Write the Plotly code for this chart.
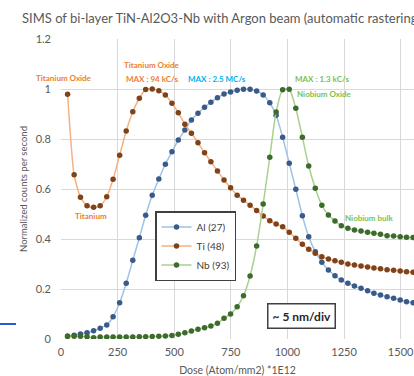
import plotly.graph_objects as go

# Dose (Atom/mm2) *1E12
dose = [29, 58, 86, 115, 144, 173, 202, 230, 259, 288, 317, 346, 374, 403, 432,
        461, 490, 518, 547, 576, 605, 634, 662, 691, 720, 749, 778, 806, 835, 864,
        893, 922, 950, 979, 1008, 1037, 1066, 1094, 1123, 1152, 1181, 1210, 1238,
        1267, 1296, 1325, 1354, 1382, 1411, 1440, 1469, 1498, 1526, 1555]

al_27 = [0.012, 0.015, 0.020, 0.025, 0.033, 0.043, 0.056, 0.089, 0.145, 0.223,
         0.315, 0.405, 0.495, 0.575, 0.640, 0.699, 0.749, 0.796, 0.836, 0.876,
         0.903, 0.927, 0.947, 0.965, 0.980, 0.988, 0.995, 0.999, 0.999, 0.992,
         0.976, 0.945, 0.895, 0.807, 0.703, 0.599, 0.493, 0.409, 0.349, 0.307,
         0.276, 0.253, 0.236, 0.223, 0.212, 0.203, 0.193, 0.183, 0.176, 0.169,
         0.163, 0.156, 0.149, 0.145]

ti_48 = [0.979, 0.657, 0.567, 0.533, 0.527, 0.533, 0.569, 0.639, 0.735, 0.832,
         0.909, 0.963, 0.998, 1.000, 0.993, 0.976, 0.943, 0.905, 0.859, 0.823,
         0.785, 0.745, 0.709, 0.672, 0.636, 0.605, 0.575, 0.555, 0.535, 0.514,
         0.492, 0.473, 0.460, 0.449, 0.427, 0.403, 0.379, 0.359, 0.343, 0.329,
         0.320, 0.313, 0.307, 0.300, 0.296, 0.292, 0.288, 0.284, 0.281, 0.277,
         0.275, 0.272, 0.269, 0.267]

nb_93 = [0.010, 0.011, 0.011, 0.009, 0.005, 0.008, 0.008, 0.008, 0.008, 0.008,
         0.008, 0.009, 0.009, 0.010, 0.011, 0.012, 0.014, 0.019, 0.025, 0.032,
         0.039, 0.045, 0.052, 0.063, 0.083, 0.100, 0.129, 0.173, 0.252, 0.372,
         0.540, 0.727, 0.908, 0.997, 0.999, 0.923, 0.807, 0.692, 0.603, 0.535,
         0.496, 0.472, 0.453, 0.443, 0.436, 0.432, 0.427, 0.423, 0.419, 0.413,
         0.412, 0.409, 0.407, 0.406]

x_ticks = [0, 250, 500, 750, 1000, 1250, 1500]
y_ticks = [0, 0.2, 0.4, 0.6, 0.8, 1, 1.2]
y_tick_text = ["0", "0.2", "0.4", "0.6", "0.8", "1", "1.2"]

FONT = "Lato"
GRAY = "#595959"

fig = go.Figure()
series = [
    ("Al (27)", al_27, "#9DC3E6", "#3A5A8A"),
    ("Ti (48)", ti_48, "#F4B183", "#7F4219"),
    ("Nb (93)", nb_93, "#A9D18E", "#3D6B2B"),
]
for name, vals, lc, mc in series:
    fig.add_trace(go.Scatter(
        x=dose, y=vals, name=name, mode="lines+markers",
        line=dict(color=lc, width=1.5, shape="spline", smoothing=0.6),
        marker=dict(color=mc, size=5.5),
    ))

fig.update_layout(
    width=414, height=376,
    margin=dict(l=61, r=0, t=39, b=37, autoexpand=False),
    paper_bgcolor="white", plot_bgcolor="white",
    font=dict(family=FONT, color=GRAY, size=11),
    showlegend=True,
    legend=dict(
        x=(155 - 61) / 353, y=(339 - 211) / 300, xanchor="left", yanchor="top",
        bgcolor="white", bordercolor="#404040", borderwidth=1.5,
        font=dict(size=10, color="#404040", family=FONT),
        itemwidth=30, tracegroupgap=0,
    ),
    xaxis=dict(
        range=[0, 1559], tickvals=x_ticks, showgrid=True, gridcolor="#D9D9D9",
        gridwidth=1, zeroline=False, showline=False, ticks="", automargin=False,
        ticklabelstandoff=5, ticklabeloverflow="allow",
        tickfont=dict(size=11, color=GRAY),
        title=dict(text="Dose (Atom/mm2) *1E12", font=dict(size=10.5, color=GRAY), standoff=13),
    ),
    yaxis=dict(
        range=[0, 1.2], tickvals=y_ticks, ticktext=y_tick_text, showgrid=True,
        gridcolor="#D9D9D9", gridwidth=1, zeroline=False, showline=False, ticks="",
        automargin=False, ticklabelstandoff=9, ticklabeloverflow="allow",
        tickfont=dict(size=11, color=GRAY),
        title=dict(text="Normalized counts per second", font=dict(size=9.5, color=GRAY), standoff=6),
    ),
)

# Chart title (cropped on the right in the reference)
fig.add_annotation(
    text="SIMS of bi-layer TiN-Al2O3-Nb with Argon beam (automatic rastering)",
    xref="paper", yref="paper", x=-41/353, y=1 + 21/300, xanchor="left", yanchor="middle",
    showarrow=False, font=dict(size=13, color=GRAY, family=FONT),
)

OR = "#ED7D31"
BL = "#00B0F0"
GR = "#7CBF4A"
labels = [
    ("Titanium Oxide", 13, 1.045, "center", OR),
    ("Titanium Oxide", 401, 1.096, "center", OR),
    ("MAX : 94 kC/s", 400, 1.04, "center", OR),
    ("MAX : 2.5 MC/s", 689, 1.04, "center", BL),
    ("MAX : 1.3 kC/s", 1153, 1.04, "center", GR),
    ("Niobium Oxide", 1034, 0.98, "left", GR),
    ("Titanium", 132, 0.492, "center", OR),
    ("Niobium bulk", 1246, 0.484, "left", GR),
]
for txt, x, y, anc, col in labels:
    fig.add_annotation(text="<b>" + txt + "</b>", x=x, y=y, xanchor=anc, yanchor="middle",
                       showarrow=False, font=dict(size=8, color=col, family=FONT))

fig.add_annotation(
    text="<b>~ 5 nm/div</b>", x=1064, y=0.092, xanchor="center", yanchor="middle",
    showarrow=False, font=dict(size=12, color="#262626", family=FONT),
    bgcolor="white", bordercolor="#404040", borderwidth=1.5, borderpad=4,
)

# stray blue segment at the far left
fig.add_shape(type="line", xref="paper", yref="y", x0=-61/353, x1=-45/353, y0=0.06, y1=0.06,
              line=dict(color="#2F55D4", width=2))

fig.write_html("out.html", config={"displayModeBar": False},
               post_script="document.body.style.margin='0px';")
